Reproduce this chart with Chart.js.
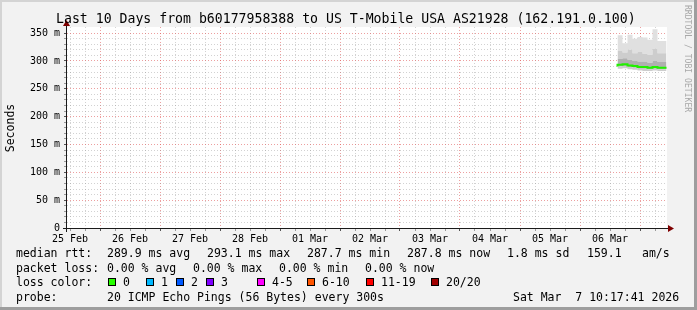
<!DOCTYPE html>
<html>
<head>
<meta charset="utf-8">
<script src="https://cdn.jsdelivr.net/npm/chart.js@4.4.1/dist/chart.umd.min.js"></script>
<style>
  html, body { margin:0; padding:0; background:#f2f2f2; }
  #wrap { position:relative; width:697px; height:310px; overflow:hidden; font-family:'DejaVu Sans Mono', monospace; color:#000; }
  #c { position:absolute; left:0; top:0; }
  .t { position:absolute; white-space:pre; font-size:11.5px; line-height:14px; }
  .box { position:absolute; width:6px; height:6px; border:1px solid #000; }
  .edge { position:absolute; }
</style>
</head>
<body>
<div id="wrap">
  <canvas id="c" width="697" height="310"></canvas>
  <div class="t" id="title" style="left:56px; top:11px; font-size:13.2px; line-height:16px;"></div>
  <div class="t" style="left:10px; top:128px; transform:translate(-50%,-50%) rotate(-90deg);">Seconds</div>
  <div class="t" style="left:683px; top:5px; font-size:8.1px; line-height:9px; color:#a8a8a8; writing-mode:vertical-rl;">RRDTOOL / TOBI OETIKER</div>
  <div id="legend"></div>
  <div class="edge" style="left:0; top:0; width:697px; height:2px; background:#d4d4d4;"></div>
  <div class="edge" style="left:0; top:0; width:2px; height:310px; background:#d4d4d4;"></div>
  <div class="edge" style="left:694px; top:0; width:3px; height:310px; background:#9e9e9e;"></div>
  <div class="edge" style="left:0; top:307px; width:697px; height:3px; background:#9e9e9e;"></div>
</div>
<script>
// hours counted from 25 Feb 00:00
const axisStart = 10.8;
const axisEnd = 250.8;
const dayLabels = ['25 Feb', '26 Feb', '27 Feb', '28 Feb', '01 Mar', '02 Mar', '03 Mar', '04 Mar', '05 Mar', '06 Mar'];

// smoke samples (ms), one per 2h step
const hours = [231, 233, 235, 237, 239, 241, 243, 245, 247, 249];
const endHour = 250.6;
const maxRtt    = [325, 346, 332, 347, 340, 343, 342, 338, 357, 336];
const upper90   = [312, 318, 315, 320, 314, 316, 313, 311, 322, 314];
const upper75   = [300, 304, 305, 302, 300, 299, 299, 297, 300, 298];
const medianRtt = [290, 293, 294, 292, 291, 289, 289, 288, 289, 288];
const lower25   = [287, 290, 291, 289, 288, 286, 286, 285, 286, 285];
const minRtt    = [283, 286, 287, 285, 284, 283, 282, 282, 283, 282];

const titleText = 'Last 10 Days from b60177958388 to US T-Mobile USA AS21928 (162.191.0.100)';
const rttLine = [[16, 'median rtt:'], [107, '289.9 ms avg'], [207, '293.1 ms max'], [307, '287.7 ms min'],
                 [407, '287.8 ms now'], [507, '1.8 ms sd'], [587, '159.1'], [642, 'am/s']];
const lossLine = [[16, 'packet loss:'], [107, '0.00 % avg'], [193, '0.00 % max'], [279, '0.00 % min'], [365, '0.00 % now']];
const lossNames  = ['0', '1', '2', '3', '4-5', '6-10', '11-19', '20/20'];
const lossColors = ['#26ff00', '#00b8ff', '#0059ff', '#7e00ff', '#ff00ff', '#ff5500', '#ff0000', '#a00000'];
const lossBoxX   = [108, 146, 176, 206, 257, 307, 366, 431];
const probeLine = [[16, 'probe:'], [107, '20 ICMP Echo Pings (56 Bytes) every 300s'], [513, 'Sat Mar  7 10:17:41 2026']];

document.getElementById('title').textContent = titleText;

const legend = document.getElementById('legend');
function addText(x, y, s) {
  const d = document.createElement('div');
  d.className = 't';
  d.style.left = x + 'px';
  d.style.top = y + 'px';
  d.textContent = s;
  legend.appendChild(d);
}
rttLine.forEach(p => addText(p[0], 246, p[1]));
lossLine.forEach(p => addText(p[0], 261, p[1]));
addText(16, 275, 'loss color:');
lossNames.forEach((n, i) => {
  const b = document.createElement('div');
  b.className = 'box';
  b.style.left = lossBoxX[i] + 'px';
  b.style.top = '278px';
  b.style.background = lossColors[i];
  legend.appendChild(b);
  addText(lossBoxX[i] + 15, 275, n);
});
probeLine.forEach(p => addText(p[0], 290, p[1]));

function series(vals) {
  const pts = hours.map((h, i) => ({x: h, y: vals[i]}));
  pts.push({x: endHour, y: vals[vals.length - 1]});
  return pts;
}
function band(vals, color, fill) {
  return {data: series(vals), stepped: 'after', borderWidth: 1, borderColor: 'rgba(0,0,0,0)',
          pointRadius: 0, backgroundColor: color, fill: fill, order: 2};
}

const xTicks = [];
for (let h = 12; h <= 246; h += 6) xTicks.push(h);
const yTicks = [];
for (let v = 0; v <= 350; v += 10) yTicks.push(v);

const minorGrid = 'rgba(143,143,143,0.4)';
const majorGrid = 'rgba(222,81,81,0.55)';
const tickFont = {family: 'DejaVu Sans Mono', size: 10};

const frame = {
  id: 'frame',
  beforeDraw(chart) {
    const {ctx, chartArea: a} = chart;
    ctx.save();
    ctx.fillStyle = '#ffffff';
    ctx.fillRect(a.left, a.top, a.right - a.left, a.bottom - a.top);
    ctx.restore();
  },
  afterDraw(chart) {
    const {ctx, chartArea: a} = chart;
    ctx.save();
    ctx.strokeStyle = '#1a1a1a';
    ctx.lineWidth = 1;
    ctx.beginPath();
    ctx.moveTo(a.left - 4, a.bottom + 0.5);
    ctx.lineTo(a.right + 2, a.bottom + 0.5);
    ctx.moveTo(a.left - 0.5, a.bottom + 4);
    ctx.lineTo(a.left - 0.5, a.top - 3);
    ctx.stroke();
    ctx.fillStyle = '#7f0000';
    ctx.beginPath();
    ctx.moveTo(a.right + 1, a.bottom - 3);
    ctx.lineTo(a.right + 7, a.bottom + 0.5);
    ctx.lineTo(a.right + 1, a.bottom + 4);
    ctx.fill();
    ctx.beginPath();
    ctx.moveTo(a.left - 4, a.top - 1);
    ctx.lineTo(a.left - 0.5, a.top - 7);
    ctx.lineTo(a.left + 3, a.top - 1);
    ctx.fill();
    ctx.restore();
  }
};

new Chart('c', {
  type: 'line',
  data: {
    datasets: [
      band(minRtt, 'rgba(0,0,0,0)', false),
      band(lower25, '#cdcdcd', '-1'),
      band(upper75, '#b0b0b0', '-1'),
      band(upper90, '#cdcdcd', '-1'),
      band(maxRtt, '#e0e0e0', '-1'),
      {data: series(medianRtt), stepped: 'after', borderColor: '#22f000', borderWidth: 2,
       pointRadius: 0, fill: false, order: 0}
    ]
  },
  options: {
    responsive: false,
    animation: false,
    devicePixelRatio: 1,
    layout: {padding: {left: 0, right: 30, top: 27, bottom: 0}},
    plugins: {legend: {display: false}, tooltip: {enabled: false}},
    scales: {
      x: {
        type: 'linear',
        min: axisStart,
        max: axisEnd,
        afterFit: s => { s.height = 82; },
        afterBuildTicks: s => { s.ticks = xTicks.map(v => ({value: v})); },
        border: {display: false, dash: [1, 2]},
        grid: {
          color: c => (c.tick && c.tick.value % 24 === 0) ? majorGrid : minorGrid,
          tickLength: 3,
          tickColor: c => (c.tick && c.tick.value % 24 === 0) ? '#555' : '#999'
        },
        ticks: {
          autoSkip: false, maxRotation: 0, minRotation: 0, padding: 2,
          font: tickFont, color: '#000',
          callback: v => v % 24 === 12 ? dayLabels[(v - 12) / 24] : ''
        }
      },
      y: {
        min: 0,
        max: 361,
        afterFit: s => { s.width = 67; },
        afterBuildTicks: s => { s.ticks = yTicks.map(v => ({value: v})); },
        border: {display: false, dash: [1, 2]},
        grid: {
          color: c => (c.tick && c.tick.value % 50 === 0) ? majorGrid : minorGrid,
          tickLength: 3,
          tickColor: c => (c.tick && c.tick.value % 50 === 0) ? '#555' : '#999'
        },
        ticks: {
          autoSkip: false, padding: 4, font: tickFont, color: '#000',
          callback: v => v % 50 === 0 ? (v === 0 ? '0' : v + ' m') : ''
        }
      }
    }
  },
  plugins: [frame]
});
</script>
</body>
</html>
